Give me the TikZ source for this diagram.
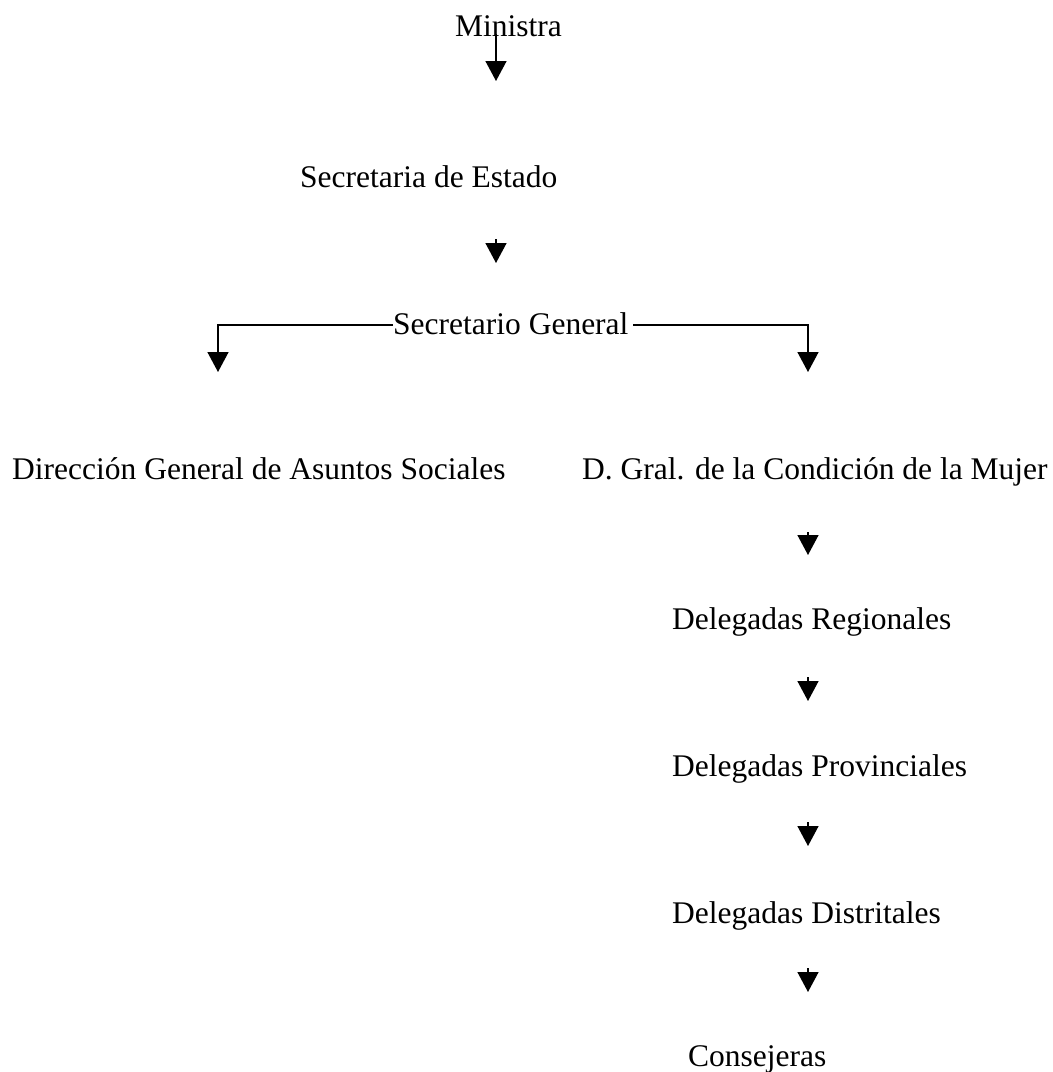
\documentclass[tikz,border=0pt]{standalone}
\usepackage{fontspec}
\setmainfont{Liberation Serif}
\usetikzlibrary{arrows.meta}
\tikzset{
  lbl/.style={anchor=base west, inner sep=0pt, font=\fontsize{31.5}{36}\selectfont},
  arr/.style={line width=1.5pt, -{Triangle[length=20pt,width=21pt]}},
  lin/.style={line width=1.5pt}
}
\begin{document}
\begin{tikzpicture}[x=1pt,y=-1pt]
\useasboundingbox (0,0) rectangle (1053,1072);
\node[lbl] (min) at (455,36) {Ministra};
\node[lbl] (sde) at (300,187) {Secretaria de Estado};
\node[lbl] (sg) at (393,334) {Secretario General};
\node[lbl] (dgas) at (12,479) {Dirección General de Asuntos Sociales};
\node[lbl] (dgcm) at (582,479) {D. Gral. de la Condición de la Mujer};
\node[lbl] (dr) at (672,629) {Delegadas Regionales};
\node[lbl] (dp) at (672,776) {Delegadas Provinciales};
\node[lbl] (dd) at (672,923) {Delegadas Distritales};
\node[lbl] (con) at (688,1066) {Consejeras};
% coordinates for arrow ends
\coordinate (a1s) at (496,34);
\coordinate (a1e) at (496,81);
\coordinate (a2s) at (496,239);
\coordinate (a2e) at (496,263);
\coordinate (ls) at (sg.west |- 0,325);
\coordinate (lc) at (218,325);
\coordinate (le) at (218,372);
\coordinate (rs) at (633,325);
\coordinate (rc) at (808,325);
\coordinate (re) at (808,372);
\coordinate (a3s) at (808,532);
\coordinate (a3e) at (808,555);
\coordinate (a4s) at (808,677);
\coordinate (a4e) at (808,701);
\coordinate (a5s) at (808,822);
\coordinate (a5e) at (808,846);
\coordinate (a6s) at (808,968);
\coordinate (a6e) at (808,992);
\draw[arr] (a1s) -- (a1e);
\draw[arr] (a2s) -- (a2e);
\draw[arr] (ls) -- (lc) -- (le);
\draw[arr] (rs) -- (rc) -- (re);
\draw[arr] (a3s) -- (a3e);
\draw[arr] (a4s) -- (a4e);
\draw[arr] (a5s) -- (a5e);
\draw[arr] (a6s) -- (a6e);
\end{tikzpicture}
\end{document}
